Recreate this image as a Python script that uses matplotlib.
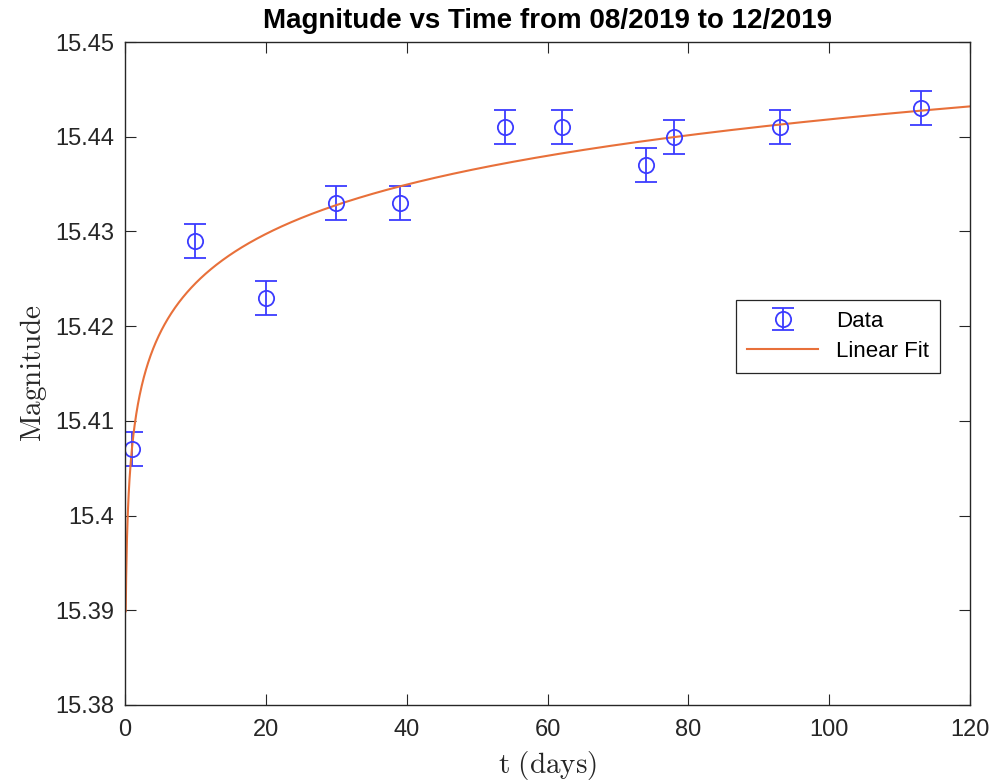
import numpy as np
import matplotlib.pyplot as plt

# observation times (days) and measured magnitudes
t_days = [1, 10, 20, 30, 39, 54, 62, 74, 78, 93, 113]
magnitude = [15.407, 15.429, 15.423, 15.433, 15.433, 15.441, 15.441, 15.437, 15.440, 15.441, 15.443]
mag_err = [0.0018] * len(t_days)

xticks = [0, 20, 40, 60, 80, 100, 120]
yticks = [15.38, 15.39, 15.40, 15.41, 15.42, 15.43, 15.44, 15.45]
ytick_labels = ['15.38', '15.39', '15.4', '15.41', '15.42', '15.43', '15.44', '15.45']

plt.rcParams['font.family'] = ['Liberation Sans', 'DejaVu Sans']
plt.rcParams['mathtext.fontset'] = 'cm'

fig = plt.figure(figsize=(9.97, 7.84), dpi=100)
ax = fig.add_axes([0.1254, 0.1008, 0.8475, 0.8456])

# log fit of magnitude vs time
b, a = np.polyfit(np.log(t_days), magnitude, 1)
t_fit = np.linspace(0.1, 120, 2000)
mag_fit = a + b * np.log(t_fit)

eb = ax.errorbar(t_days, magnitude, yerr=mag_err, fmt='o', color='#3b3bff', mfc='none',
                 markersize=11, mew=1.3, elinewidth=1.3, capsize=8, capthick=1.3, label='Data')
fit_line, = ax.plot(t_fit, mag_fit, color='#e8703a', lw=1.5, label='Linear Fit')

ax.set_xlim(0, 120)
ax.set_ylim(15.38, 15.45)
ax.set_xticks(xticks)
ax.set_yticks(yticks)
ax.set_yticklabels(ytick_labels)

dark = '#262626'
for s in ax.spines.values():
    s.set_color(dark)
    s.set_linewidth(1.0)
ax.tick_params(direction='in', length=8, width=0.8, colors=dark, labelsize=17,
               top=True, right=True, pad=8)
ax.tick_params(axis='x', pad=10)

ax.set_title('Magnitude vs Time from 08/2019 to 12/2019', fontsize=20, fontweight='bold', pad=10)
ax.set_xlabel(r'$\mathrm{t\ (days)}$', fontsize=21, color=dark, labelpad=6)
ax.set_ylabel(r'$\mathrm{Magnitude}$', fontsize=21, color=dark, labelpad=4)

leg = ax.legend([eb, fit_line], ['Data', 'Linear Fit'], loc='upper left',
                bbox_to_anchor=(0.71, 0.628), fontsize=16, fancybox=False, framealpha=1,
                edgecolor=dark, borderpad=0.5, handlelength=3.2, labelspacing=0.4)
leg.get_frame().set_linewidth(0.9)

fig.savefig('out.png', dpi=100)
